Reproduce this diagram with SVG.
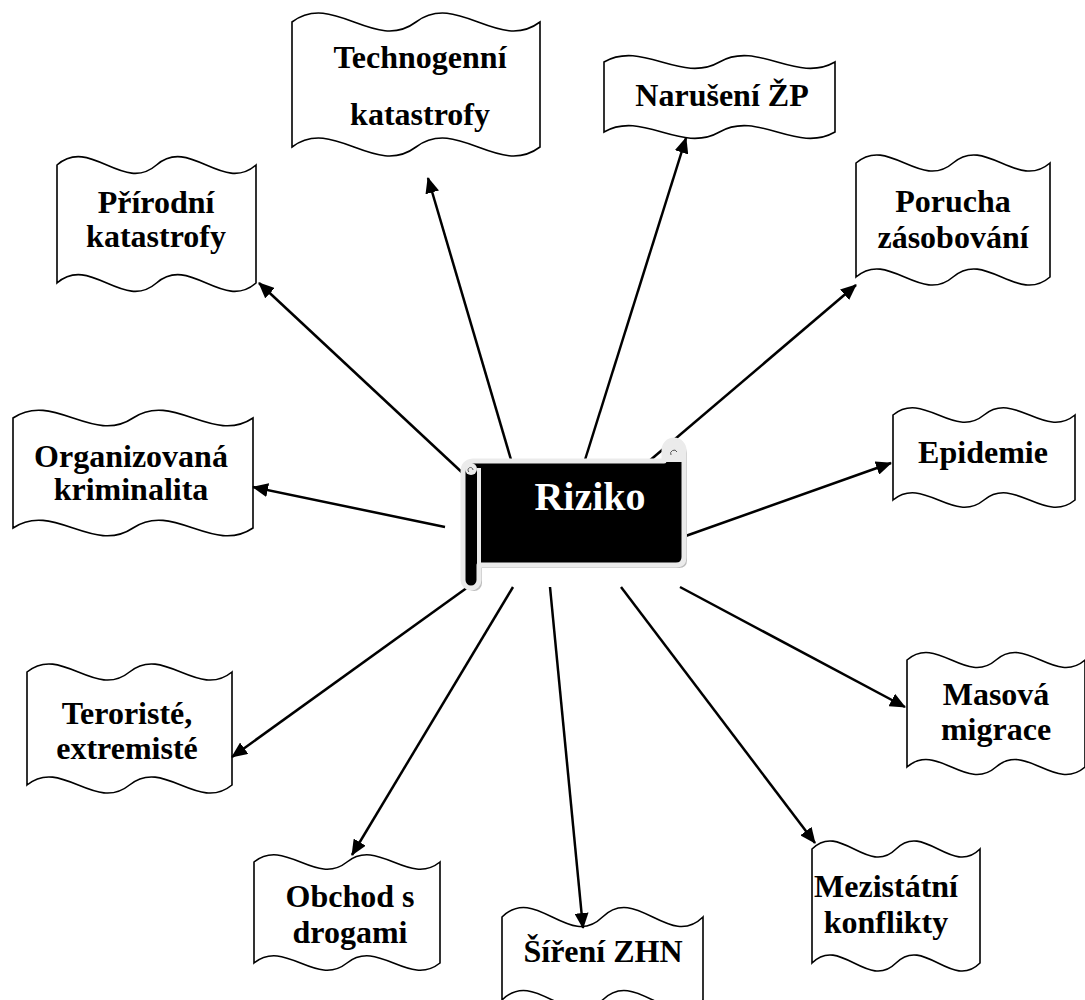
<svg xmlns="http://www.w3.org/2000/svg" width="1085" height="1000" viewBox="0 0 1085 1000">
<style>
.box{fill:#fff;stroke:#000;stroke-width:1.6}
.lbl{font-family:"Liberation Serif","Times New Roman",serif;font-weight:bold;font-size:32px;fill:#000;text-anchor:middle}
.con{stroke:#000;stroke-width:2.5;fill:none;marker-end:url(#ah)}
.rim{stroke:#ebebeb}
</style>
<defs>
<marker id="ah" markerUnits="userSpaceOnUse" markerWidth="16" markerHeight="14" refX="15" refY="7" orient="auto">
<path d="M0,0 L16,7 L0,14 Z" fill="#000"/>
</marker>
</defs>
<rect width="1085" height="1000" fill="#fff"/>

<g id="n-technogenni">
<path class="box" d="M292,22 C333.3,-9 374.7,53 416,22 C457.3,-9 498.7,53 540,22 L540,147 C498.7,178 457.3,116 416,147 C374.7,178 333.3,116 292,147 Z"/>
<text class="lbl" x="420" y="68">Technogenní</text>
<text class="lbl" x="420" y="125">katastrofy</text>
</g>
<g id="n-naruseni">
<path class="box" d="M604,62 C642.5,40 681,84 719.5,62 C758,40 796.5,84 835,62 L835,132 C796.5,154 758,110 719.5,132 C681,154 642.5,110 604,132 Z"/>
<text class="lbl" x="722" y="106">Narušení ŽP</text>
</g>
<g id="n-prirodni">
<path class="box" d="M57,165 C90.2,136 123.3,194 156.5,165 C189.7,136 222.8,194 256,165 L256,283 C222.8,312 189.7,254 156.5,283 C123.3,312 90.2,254 57,283 Z"/>
<text class="lbl" x="156" y="213">Přírodní</text>
<text class="lbl" x="156" y="247">katastrofy</text>
</g>
<g id="n-porucha">
<path class="box" d="M856,163 C888.3,135 920.7,191 953,163 C985.3,135 1017.7,191 1050,163 L1050,277 C1017.7,305 985.3,249 953,277 C920.7,305 888.3,249 856,277 Z"/>
<text class="lbl" x="953" y="212">Porucha</text>
<text class="lbl" x="953" y="248">zásobování</text>
</g>
<g id="n-epidemie">
<path class="box" d="M893,415 C923.3,390 953.7,440 984,415 C1014.3,390 1044.7,440 1075,415 L1075,500 C1044.7,525 1014.3,475 984,500 C953.7,525 923.3,475 893,500 Z"/>
<text class="lbl" x="983" y="463">Epidemie</text>
</g>
<g id="n-masova">
<path class="box" d="M907,660 C936.7,634 966.3,686 996,660 C1025.7,634 1055.3,686 1085,660 L1085,767 C1055.3,793 1025.7,741 996,767 C966.3,793 936.7,741 907,767 Z"/>
<text class="lbl" x="996" y="705">Masová</text>
<text class="lbl" x="996" y="740">migrace</text>
</g>
<g id="n-mezistatni">
<path class="box" d="M812,849 C840,821 868,877 896,849 C924,821 952,877 980,849 L980,963 C952,991 924,935 896,963 C868,991 840,935 812,963 Z"/>
<text class="lbl" x="886" y="897">Mezistátní</text>
<text class="lbl" x="886" y="933">konflikty</text>
</g>
<g id="n-sireni">
<path class="box" d="M502,917 C535.5,884 569,950 602.5,917 C636,884 669.5,950 703,917 L703,1000 C669.5,1033 636,967 602.5,1000 C569,1033 535.5,967 502,1000 Z"/>
<text class="lbl" x="603" y="962">Šíření ZHN</text>
</g>
<g id="n-obchod">
<path class="box" d="M254,862 C285,837 316,887 347,862 C378,837 409,887 440,862 L440,963 C409,988 378,938 347,963 C316,988 285,938 254,963 Z"/>
<text class="lbl" x="350" y="907">Obchod s</text>
<text class="lbl" x="350" y="943">drogami</text>
</g>
<g id="n-teroriste">
<path class="box" d="M27,672 C61.2,644 95.3,700 129.5,672 C163.7,644 197.8,700 232,672 L232,785 C197.8,813 163.7,757 129.5,785 C95.3,813 61.2,757 27,785 Z"/>
<text class="lbl" x="127" y="724">Teroristé,</text>
<text class="lbl" x="127" y="759">extremisté</text>
</g>
<g id="n-organizovana">
<path class="box" d="M13,418 C53,391 93,445 133,418 C173,391 213,445 253,418 L253,528 C213,555 173,501 133,528 C93,555 53,501 13,528 Z"/>
<text class="lbl" x="131" y="467">Organizovaná</text>
<text class="lbl" x="131" y="500">kriminalita</text>
</g>

<g id="connectors">
<line class="con" x1="512" y1="463" x2="428" y2="178"/>
<line class="con" x1="584" y1="463" x2="686" y2="138"/>
<line class="con" x1="468" y1="478" x2="259" y2="283"/>
<line class="con" x1="648" y1="462" x2="856" y2="285"/>
<line class="con" x1="680" y1="538" x2="891" y2="463"/>
<line class="con" x1="445" y1="527" x2="253" y2="487"/>
<line class="con" x1="468" y1="587" x2="232" y2="757"/>
<line class="con" x1="513" y1="587" x2="352" y2="855"/>
<line class="con" x1="550" y1="587" x2="583" y2="928"/>
<line class="con" x1="621" y1="587" x2="815" y2="843"/>
<line class="con" x1="680" y1="587" x2="905" y2="707"/>
</g>

<g id="riziko">
<path d="M463,472 Q463,462 473,461 L664,461 L664,450 A10,10 0 0 1 684,450 L684,557 Q684,565 676,565 L479,565 L479,580 A8,8 0 0 1 463,580 Z" fill="#bdbdbd" transform="translate(3,3)"/>
<path class="rim" d="M463,472 Q463,462 473,461 L664,461 L664,450 A10,10 0 0 1 684,450 L684,557 Q684,565 676,565 L479,565 L479,580 A8,8 0 0 1 463,580 Z" fill="#000" stroke-width="5" stroke-linejoin="round"/>
<line class="rim" x1="479" y1="468" x2="479" y2="566" stroke-width="4"/>
<circle cx="471" cy="469" r="6" fill="#ebebeb"/>
<path d="M469,472 A2.5,2.5 0 1 1 473,470" fill="none" stroke="#555" stroke-width="1"/>
<path d="M664,450 A10,10 0 0 1 684,450 L684,462 L664,462 Z" fill="#ebebeb"/>
<path d="M671,455 A3,3 0 1 1 677,452" fill="none" stroke="#555" stroke-width="1"/>
<text x="590" y="510" font-family="Liberation Serif, Times New Roman, serif" font-weight="bold" font-size="40" fill="#fff" text-anchor="middle">Riziko</text>
</g>
</svg>
